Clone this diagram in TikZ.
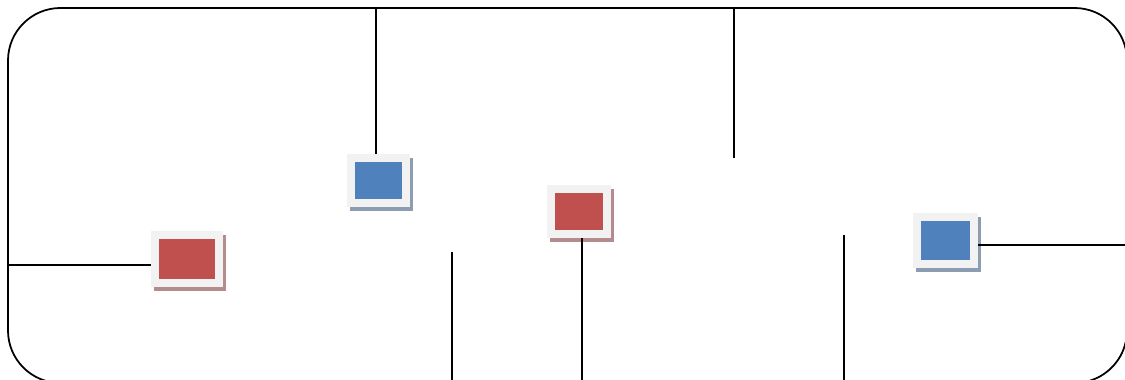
\documentclass[tikz,border=0pt]{standalone}
\usetikzlibrary{positioning, calc}
\definecolor{boxred}{HTML}{C0504D}
\definecolor{boxblue}{HTML}{4F81BD}
\definecolor{rimgray}{HTML}{F2F2F2}
\definecolor{redshade}{HTML}{B48C8E}
\definecolor{blueshade}{HTML}{8C9DB2}

\begin{document}
\begin{tikzpicture}[
    wire/.style={draw=black, line width=1pt},
    cellbox/.style={draw=rimgray, line width=0.16cm, inner sep=0pt,
      preaction={draw=#1, fill=#1, transform canvas={shift={(0.06cm,-0.09cm)}}}},
    redcell/.style={cellbox=redshade, fill=boxred},
    bluecell/.style={cellbox=blueshade, fill=boxblue},
  ]

  % Canvas
  \clip (0,0) rectangle (22.5,7.6);
  \draw[wire, rounded corners=1.05cm] (0.16,-0.06) rectangle (22.54,7.44);

  % Cells
  \node[redcell, minimum width=1.28cm, minimum height=0.96cm] (red1) at (3.74,2.42) {};
  \node[bluecell, minimum width=1.1cm, minimum height=0.9cm] (blue1) at (7.57,3.99) {};
  \node[redcell, minimum width=1.12cm, minimum height=0.9cm] (red2) at (11.58,3.37) {};
  \node[bluecell, minimum width=1.14cm, minimum height=0.94cm] (blue2) at (18.91,2.79) {};

  % Free ends
  \coordinate (topA) at (7.52,7.44);
  \coordinate (topB) at (14.68,7.44);
  \coordinate (endB) at (14.68,4.44);
  \coordinate (leftA) at (0.16,2.3);
  \coordinate (midA) at (9.04,2.56);
  \coordinate (botA) at (9.04,0);
  \coordinate (botB) at (11.64,0);
  \coordinate (midC) at (16.88,2.9);
  \coordinate (botC) at (16.88,0);
  \coordinate (rightA) at (22.5,2.7);

  % Wires
  \draw[wire] (topA) -- (topA |- blue1.north);
  \draw[wire] (topB) -- (endB);
  \draw[wire] (leftA) -- (leftA -| red1.west);
  \draw[wire] (midA) -- (botA);
  \draw[wire] (botB) -- (botB |- red2.south);
  \draw[wire] (midC) -- (botC);
  \draw[wire] (rightA) -- (rightA -| blue2.east);

\end{tikzpicture}
\end{document}
